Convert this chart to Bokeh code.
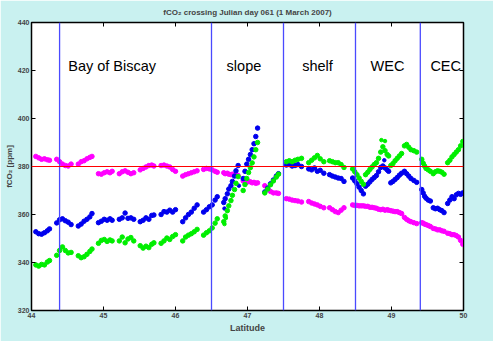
from bokeh.plotting import figure
from bokeh.models import Span, LinearAxis, FixedTicker, CustomJSTickFormatter, Range1d
from bokeh.core.properties import value
from bokeh.embed import file_html
from bokeh.resources import INLINE

# ---- data ----
lat = [
    44.06, 44.10, 44.14, 44.18, 44.22, 44.25,
    44.35, 44.39, 44.43, 44.47, 44.51, 44.55,
    44.65, 44.69, 44.73, 44.77, 44.81, 44.84,
    44.93, 44.97, 45.01, 45.05, 45.09, 45.12,
    45.22, 45.26, 45.30, 45.34, 45.38, 45.42,
    45.51, 45.55, 45.59, 45.63, 45.67, 45.70,
    45.80, 45.84, 45.88, 45.92, 45.96, 46.00,
    46.10, 46.14, 46.18, 46.22, 46.26, 46.30,
    46.39, 46.43, 46.47, 46.51, 46.55, 46.58,
    46.67, 46.69, 46.72, 46.74, 46.77, 46.79, 46.82, 46.84, 46.87,
    46.94, 46.965, 46.99, 47.015, 47.04, 47.065, 47.09, 47.115, 47.14,
    47.24, 47.28, 47.32, 47.36, 47.40, 47.43,
    47.54, 47.58, 47.62, 47.66, 47.70, 47.75,
    47.85, 47.89, 47.93, 47.97, 48.01, 48.06,
    48.14, 48.18, 48.22, 48.26, 48.30, 48.34,
    48.46, 48.49, 48.52, 48.55, 48.58, 48.61,
    48.64, 48.67, 48.70, 48.73, 48.76, 48.79,
    48.82, 48.85, 48.88, 48.91, 48.94, 48.96,
    48.99, 49.02, 49.05, 49.08, 49.11, 49.14,
    49.18, 49.21, 49.24, 49.27, 49.31, 49.35,
    49.42, 49.44, 49.46, 49.48, 49.51, 49.54,
    49.58, 49.61, 49.64, 49.67, 49.70, 49.73,
    49.78, 49.81, 49.84, 49.87, 49.90, 49.93, 49.96, 49.99,
]

fco2_magenta = [
    384.2, 383.6, 383.0, 383.2, 382.8, 382.6,
    383.0, 382.0, 381.0, 380.4, 380.2, 381.0,
    381.0, 382.0, 382.4, 383.2, 383.8, 384.2,
    377.0, 376.8, 377.4, 377.8, 377.4, 378.0,
    377.0, 377.8, 378.2, 377.6, 377.0, 377.4,
    378.6, 379.2, 379.8, 380.4, 380.6, 380.2,
    380.4, 380.6, 380.2, 379.8, 378.8, 378.0,
    376.0, 376.6, 377.0, 377.4, 377.8, 378.2,
    378.8, 379.2, 379.0, 378.6, 378.0, 377.6,
    377.4, 377.0, 377.2, 376.8, 376.6, 376.8, 376.4, 376.8, 376.2,
    374.0, 373.6, 373.4, 373.8, 373.6, 373.2, 373.4, 373.0, 373.2,
    372.0, 370.8, 369.6, 369.0, 369.0, 368.8,
    366.6, 366.4, 366.0, 365.8, 365.6, 365.2,
    365.4, 364.8, 364.4, 364.0, 363.4, 362.8,
    362.8, 362.0, 361.2, 360.8, 361.8, 362.8,
    364.0, 363.8, 363.8, 363.6, 363.6, 363.6,
    363.4, 363.4, 363.0, 363.0, 362.8, 362.6,
    362.2, 362.0, 362.2, 361.8, 362.0, 361.8,
    361.6, 361.4, 361.2, 361.2, 360.8, 360.4,
    358.8, 358.0, 357.4, 357.0, 356.6, 356.2,
    356.6, 356.4, 356.0, 355.8, 355.4, 355.0,
    354.2, 354.0, 353.6, 353.6, 353.2, 353.0,
    352.2, 352.0, 351.6, 351.6, 351.2, 350.6, 349.2, 347.6,
]

fco2_blue = [
    352.8, 352.0, 351.8, 352.4, 353.2, 354.0,
    356.5, 357.8, 358.2, 357.4, 356.8, 355.8,
    355.2, 356.0, 357.2, 358.0, 359.0, 360.4,
    356.6, 357.2, 358.0, 357.6, 358.2, 357.6,
    358.0, 358.6, 360.6, 358.4, 358.6, 358.0,
    357.0, 357.6, 358.6, 358.0, 359.6, 359.8,
    360.0, 361.2, 361.0, 361.8, 361.0, 362.0,
    357.0, 358.6, 360.0, 361.0, 362.6, 364.0,
    361.0, 362.0, 363.2, 364.0, 366.0, 367.4,
    365.0, 366.6, 368.6, 370.6, 372.0, 373.8, 376.0, 378.2, 380.4,
    375.0, 378.0, 381.0, 383.0, 385.0, 387.0, 389.5, 392.5, 396.0,
    369.4, 371.0, 372.8, 374.4, 376.0, 377.0,
    380.6, 380.8, 380.2, 380.4, 380.8, 380.0,
    379.0, 378.6, 379.4, 378.0, 378.4, 377.2,
    376.6, 376.0, 375.6, 375.2, 375.0, 373.8,
    375.2, 374.0, 372.8, 371.4, 370.0, 368.6,
    371.8, 372.6, 373.6, 374.6, 375.4, 376.2,
    377.8, 379.6, 380.2, 379.4, 378.6, 378.0,
    373.2, 373.8, 374.6, 375.4, 376.4, 377.2,
    378.0, 377.0, 376.0, 375.0, 374.2, 373.4,
    370.4, 369.0, 367.6, 366.8, 366.0, 365.6,
    362.8, 362.4, 362.6, 362.0, 361.6, 360.8,
    364.6, 366.0, 367.4, 366.6, 368.2, 368.8, 368.4, 369.0,
]

fco2_green = [
    339.0, 338.5, 339.2, 339.0, 340.2, 340.8,
    343.0, 345.0, 346.5, 345.0, 344.0, 344.2,
    342.8, 342.0, 342.4, 343.4, 344.6, 345.6,
    348.0, 349.2, 349.6, 348.8, 349.4, 349.0,
    349.0, 350.6, 348.2, 349.8, 350.4, 349.0,
    347.0, 346.0, 346.8, 346.2, 347.6, 348.2,
    348.0, 349.0, 350.2, 349.6, 350.8, 351.6,
    349.0, 350.6, 351.4, 352.0, 352.8, 353.8,
    351.4, 352.4, 353.2, 354.4, 356.4, 358.2,
    357.0, 359.4, 361.6, 363.6, 365.8, 368.0, 370.4, 373.0, 375.8,
    370.0, 372.5, 375.0, 377.5, 379.5, 381.5, 384.0, 387.0, 390.0,
    369.0, 370.6, 372.4, 374.0, 375.6, 376.8,
    382.0, 382.4, 382.0, 382.6, 383.0, 383.4,
    381.6, 382.6, 383.6, 384.6, 383.2, 382.0,
    382.4, 382.0, 381.6, 381.6, 380.8, 379.6,
    379.0, 377.8, 376.6, 375.2, 373.8, 372.6,
    376.6, 377.6, 378.8, 379.8, 380.8, 381.6,
    383.4, 386.0, 388.2, 386.6, 385.0, 384.4,
    380.4, 381.2, 382.4, 383.4, 384.4, 385.4,
    388.6, 389.2, 388.0, 387.0, 386.6, 386.0,
    383.0, 381.4, 380.2, 379.2, 378.6, 378.0,
    377.0, 377.8, 378.2, 378.0, 377.6, 376.8,
    381.6, 382.6, 384.0, 385.0, 386.0, 387.0, 388.6, 390.4,
]

# isolated points
extra_green_lat = [46.68, 46.70, 48.86, 48.91]
extra_green = [356.0, 358.5, 391.0, 390.6]
extra_blue_lat = [46.68, 46.88, 48.90]
extra_blue = [362.5, 372.0, 382.6]

region_lat = [44.39, 46.5, 47.5, 48.5, 49.4]
reference_level = 380
region_names = ["Bay of Biscay", "slope", "shelf", "WEC", "CEC"]
region_name_lat = [44.51, 46.71, 47.76, 48.71, 49.54]
region_name_level = 422

x_ticks = [44, 45, 46, 47, 48, 49, 50]
y_ticks = [320, 340, 360, 380, 400, 420, 440]

FONT = "Liberation Sans"
BG = "#c9f1f0"

p = figure(width=493, height=341, output_backend="svg", toolbar_location=None,
           x_range=Range1d(44, 50), y_range=Range1d(320, 440),
           min_border_left=31, min_border_right=30, min_border_top=21, min_border_bottom=31,
           background_fill_color="white", border_fill_color=BG,
           outline_line_color="black", outline_line_width=1.5)

p.title.text = "fCO\u2082 crossing Julian day 061 (1 March 2007)"
p.title.text_font = FONT
p.title.text_font_size = "8px"
p.title.text_font_style = "bold"
p.title.align = "center"
p.title.standoff = 11
p.title.offset = 0

p.grid.visible = False

for ax in (p.xaxis[0], p.yaxis[0]):
    ax.major_tick_in = 4
    ax.major_tick_out = 0
    ax.minor_tick_line_color = None
    ax.major_label_text_font = FONT
    ax.major_label_text_font_size = "7px"
    ax.major_label_text_font_style = "bold"
    ax.major_label_standoff = 2
    ax.axis_label_text_font = FONT
    ax.axis_label_text_font_style = "bold"
    ax.axis_line_color = "black"
    ax.major_tick_line_color = "black"

p.xaxis[0].ticker = FixedTicker(ticks=x_ticks)
p.yaxis[0].ticker = FixedTicker(ticks=y_ticks)
p.xaxis[0].axis_label = "Latitude"
p.xaxis[0].axis_label_text_font_size = "9px"
p.xaxis[0].axis_label_standoff = 2
p.yaxis[0].axis_label = "fCO\u2082 [ppm]"
p.yaxis[0].axis_label_text_font_size = "8px"
p.yaxis[0].axis_label_standoff = 1

empty = CustomJSTickFormatter(code="return ''")
top = LinearAxis(ticker=FixedTicker(ticks=x_ticks), formatter=empty,
                 major_tick_in=4, major_tick_out=0, minor_tick_line_color=None,
                 major_label_standoff=0, major_label_text_font_size="0px")
right = LinearAxis(ticker=FixedTicker(ticks=y_ticks), formatter=empty,
                   major_tick_in=4, major_tick_out=0, minor_tick_line_color=None,
                   major_label_standoff=0, major_label_text_font_size="0px")
p.add_layout(top, "above")
p.add_layout(right, "right")

for x in region_lat:
    p.add_layout(Span(location=x, dimension="height", line_color="#4a4aff", line_width=1.3))
p.add_layout(Span(location=reference_level, dimension="width", line_color="red", line_width=1))

p.scatter(lat, fco2_magenta, marker="circle", size=4.5, color="#ff00ff")
p.scatter(lat, fco2_blue, marker="circle", size=4.5, color="#0000ee")
p.scatter(extra_blue_lat, extra_blue, marker="circle", size=3.5, color="#0000ee")
p.scatter(lat, fco2_green, marker="circle", size=4.5, color="#00ee00")
p.scatter(extra_green_lat, extra_green, marker="circle", size=3.5, color="#00ee00")

p.text(region_name_lat, [region_name_level] * len(region_names), text=region_names,
       text_font=value(FONT), text_font_size="14.5px", text_baseline="middle",
       text_align="left", text_color="black")

open("out.html", "w").write(file_html(p, INLINE))
